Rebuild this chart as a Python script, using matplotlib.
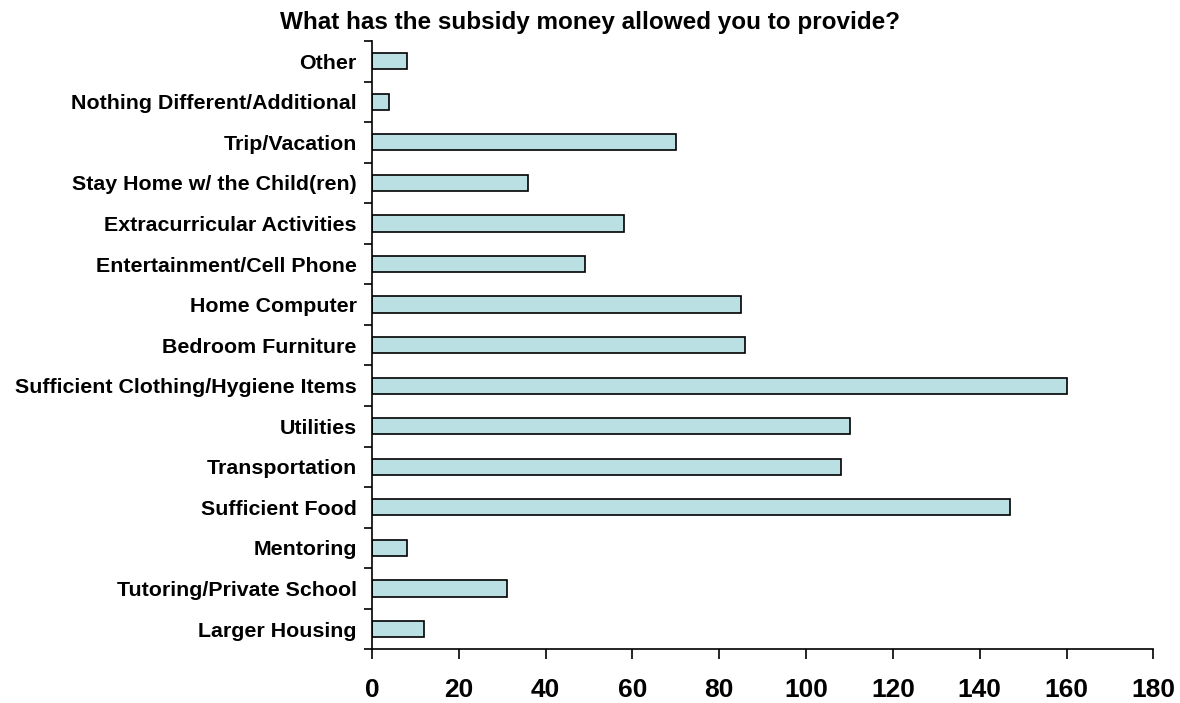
import matplotlib
matplotlib.use("Agg")
import matplotlib.pyplot as plt
import numpy as np

plt.rcParams['font.family'] = ['Liberation Sans', 'DejaVu Sans']

categories = [
    "Larger Housing",
    "Tutoring/Private School",
    "Mentoring",
    "Sufficient Food",
    "Transportation",
    "Utilities",
    "Sufficient Clothing/Hygiene Items",
    "Bedroom Furniture",
    "Home Computer",
    "Entertainment/Cell Phone",
    "Extracurricular Activities",
    "Stay Home w/ the Child(ren)",
    "Trip/Vacation",
    "Nothing Different/Additional",
    "Other",
]
counts = [12, 31, 8, 147, 108, 110, 160, 86, 85, 49, 58, 36, 70, 4, 8]
x_ticks = [0, 20, 40, 60, 80, 100, 120, 140, 160, 180]

fig = plt.figure(figsize=(11.8, 7.03), dpi=100)
ax = fig.add_axes([0.3153, 0.0764, 0.6621, 0.8653])

pos = np.arange(len(categories))
ax.barh(pos, counts, height=0.4, color="#BAE0E3", edgecolor="black", linewidth=1.2)

ax.set_xlim(0, 180)
ax.set_ylim(-0.5, len(categories) - 0.5)

ax.set_xticks(x_ticks)
ax.set_xticklabels([str(t) for t in x_ticks], fontsize=19, fontweight="bold")
ax.tick_params(axis="x", direction="out", length=7, width=1.2, pad=14)

# category boundaries carry the tick marks; labels sit at bar centers
ax.set_yticks(np.arange(-0.5, len(categories), 1.0))
ax.set_yticklabels([])
ax.set_yticks(pos, minor=True)
ax.set_yticklabels(categories, minor=True, fontsize=15.4, fontweight="bold")
ax.tick_params(axis="y", which="major", direction="out", length=6, width=1.2)
ax.tick_params(axis="y", which="minor", length=0, pad=11)

for side in ("top", "right"):
    ax.spines[side].set_visible(False)
for side in ("left", "bottom"):
    ax.spines[side].set_linewidth(1.2)

fig.text(0.5, 1 - 22 / 703, "What has the subsidy money allowed you to provide?",
         ha="center", va="center", fontsize=17.5, fontweight="bold")

fig.savefig("out.png", dpi=100)
